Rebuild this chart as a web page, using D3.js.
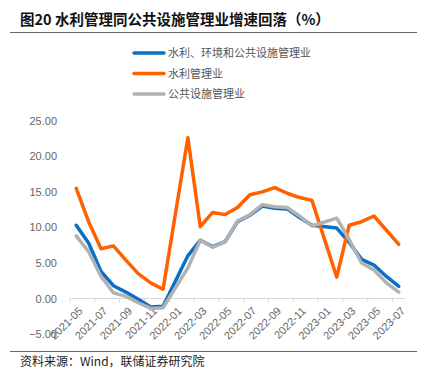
<!DOCTYPE html>
<html><head><meta charset="utf-8">
<script src="https://cdn.jsdelivr.net/npm/d3@7"></script>
<style>
html,body{margin:0;padding:0;background:#fff;}
text{font-family:"Liberation Sans","Noto Sans CJK SC",sans-serif;}
.cjk{font-family:"Noto Sans CJK SC","Liberation Sans",sans-serif;}
</style></head>
<body>
<svg id="chart" width="434" height="378"></svg>
<script>
const categories = ["2021-05","2021-06","2021-07","2021-08","2021-09","2021-10","2021-11","2021-12",
  "2022-01","2022-02","2022-03","2022-04","2022-05","2022-06","2022-07","2022-08","2022-09","2022-10","2022-11","2022-12",
  "2023-01","2023-02","2023-03","2023-04","2023-05","2023-06","2023-07"];
const waterEnvPublic = [10.3,7.8,3.8,1.8,0.9,-0.1,-1.2,-1.1,
  null,6.0,8.2,7.3,8.0,10.8,11.7,13.0,12.7,12.6,11.4,10.3,
  null,9.9,7.9,5.5,4.7,3.1,1.7];
const waterMgmt = [15.5,10.8,7.0,7.4,5.4,3.5,2.2,1.3,
  null,22.6,10.1,12.1,11.8,12.8,14.6,15.0,15.6,14.8,14.2,13.8,
  null,3.0,10.3,10.8,11.6,9.6,7.6];
const publicFacilities = [8.8,6.6,3.1,0.8,0.3,-0.6,-1.4,-1.3,
  null,4.3,8.2,7.2,8.0,10.9,11.8,13.2,12.9,12.8,11.6,10.2,
  null,11.3,8.3,5.0,4.0,2.2,0.9];
const yTicks = [-5,0,5,10,15,20,25];
const xTickLabels = categories.filter((d,i)=>i%2===0);
const seriesNames = ["水利、环境和公共设施管理业","水利管理业","公共设施管理业"];
const seriesColors = ["#0A6FC7","#FF6100","#B2B2B2"];
const seriesData = [waterEnvPublic, waterMgmt, publicFacilities];

const svg = d3.select("#chart");

// title
svg.append("text").attr("class","cjk").attr("x",20).attr("y",25)
  .attr("font-size",14.5).attr("font-weight","bold").attr("fill","#111")
  .text("图20 水利管理同公共设施管理业增速回落（%）");
svg.append("line").attr("x1",10).attr("x2",417).attr("y1",32.5).attr("y2",32.5)
  .attr("stroke","#666").attr("stroke-width",1);
svg.append("line").attr("x1",10).attr("x2",417).attr("y1",351.5).attr("y2",351.5)
  .attr("stroke","#666").attr("stroke-width",1);
svg.append("text").attr("class","cjk").attr("x",20).attr("y",366)
  .attr("font-size",12).attr("fill","#222")
  .text("资料来源：Wind，联储证券研究院");

const x = d3.scaleBand().domain(categories).range([70,405]).padding(0);
const y = d3.scaleLinear().domain([-5,25]).range([334.05,120.75]);

// y axis labels
const yAxis = d3.axisLeft(y).tickValues(yTicks).tickFormat(d3.format(".2f")).tickSize(0).tickPadding(0);
const yg = svg.append("g").attr("transform","translate(57,0)").call(yAxis);
yg.select(".domain").remove();
yg.selectAll("text").attr("font-size",11).attr("fill","#666").attr("font-family","Liberation Sans, sans-serif");

// x axis
const xAxis = d3.axisBottom(x).tickValues(xTickLabels).tickSize(0).tickFormat(d=>d);
const xg = svg.append("g").attr("transform",`translate(0,${y(0)})`).call(xAxis);
xg.select(".domain").attr("stroke","#d9d9d9").attr("d",`M70,0H405`);
xg.selectAll(".tick text")
  .attr("font-size",11).attr("fill","#666").attr("font-family","Liberation Sans, sans-serif")
  .attr("text-anchor","end").attr("dy","0")
  .attr("transform","translate(5,11) rotate(-45)");
// tick marks at category boundaries every 2 months
const tickG = svg.append("g").attr("transform",`translate(0,${y(0)})`);
xTickLabels.forEach(c=>{
  const px = x(c);
  tickG.append("line").attr("x1",px).attr("x2",px).attr("y1",0).attr("y2",4)
    .attr("stroke","#d9d9d9").attr("stroke-width",1);
});

// lines
const line = d3.line().x(d=>x(d.c)+x.bandwidth()/2).y(d=>y(d.v));
seriesData.forEach((vals,i)=>{
  const pts = categories.map((c,j)=>({c, v: vals[j]})).filter(d=>d.v!==null);
  svg.append("path").datum(pts).attr("d",line).attr("fill","none")
    .attr("stroke",seriesColors[i]).attr("stroke-width",3.5)
    .attr("stroke-linejoin","round").attr("stroke-linecap","round");
});

// legend
const lg = svg.append("g");
seriesNames.forEach((n,i)=>{
  const ly = 53 + i*20.5;
  lg.append("line").attr("x1",134).attr("x2",164).attr("y1",ly).attr("y2",ly)
    .attr("stroke",seriesColors[i]).attr("stroke-width",3.5).attr("stroke-linecap","round");
  lg.append("text").attr("class","cjk").attr("x",168).attr("y",ly+4)
    .attr("font-size",11).attr("fill","#555").text(n);
});
</script>
</body></html>
